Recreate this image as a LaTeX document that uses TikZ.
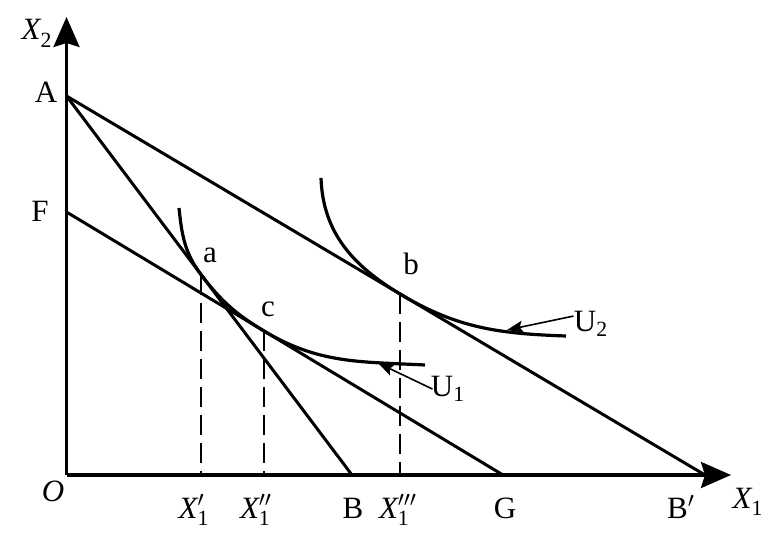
\documentclass[tikz,border=0pt]{standalone}
\usepackage{amsmath}
\usepackage{fontspec}
\setmainfont{Liberation Serif}
\usetikzlibrary{arrows.meta,positioning,calc}
\newcommand{\xsym}[2]{$\textit{X}^{#1}_{\textup{#2}}$}

\begin{document}
\begin{tikzpicture}[
    x=0.5pt, y=0.5pt,
    axis/.style={-{Stealth[length=15pt,width=13pt,inset=2pt]}, line width=1.6pt},
    budget/.style={line width=1.5pt},
    indiff/.style={line width=1.6pt},
    guide/.style={dash pattern=on 10pt off 4pt, line width=0.9pt},
    pointer/.style={-{Stealth[length=8pt,width=6pt,inset=1.5pt]}, line width=0.8pt},
    lbl/.style={font=\fontsize{15.5}{18}\selectfont, inner sep=0pt, anchor=base},
  ]
  \useasboundingbox (0,0) rectangle (777,536);

  % =================== Axes ===================
  \coordinate (O) at (66.5,61);
  \coordinate (xend) at (731,61);
  \coordinate (yend) at (66.5,519);
  \draw[axis] (O) -- (xend);
  \draw[axis] (O) -- (yend);

  \node[lbl] (lx2) at (37,496) {\xsym{}{2}};
  \node[lbl] (lx1) at (748,28) {\xsym{}{1}};
  \node[lbl] (lO) at (53,34) {\textit{O}};

  % =================== Budget lines ===================
  \coordinate (A) at (66.5,440);
  \coordinate (F) at (66.5,324);
  \coordinate (B) at (352,61);
  \coordinate (G) at (503,61);
  \coordinate (Bp) at (705,61);
  \draw[budget] (A) -- (B);
  \draw[budget] (F) -- (G);
  \draw[budget] (A) -- (Bp);

  \node[lbl] (lA) at (46,433) {A};
  \node[lbl] (lF) at (40,314) {F};
  \node[lbl] (lB) at (353,18) {B};
  \node[lbl] (lG) at (505,18) {G};
  \node[lbl] (lBp) at (681,18) {B$'$};

  % tangency points
  \coordinate (a) at ($(A)!0.471!(B)$);
  \coordinate (c) at ($(F)!0.4525!(G)$);
  \coordinate (b) at ($(A)!0.5223!(Bp)$);

  % =================== Indifference curves ===================
  % U1: touches AB at a and FG at c
  \draw[indiff] (179,328) to[out=-84, in=127] (a)
    to[out=-53, in=149] (c) to[out=-31, in=177] (425,171);
  % U2: touches AB' at b
  \draw[indiff] (321,358) to[out=-88, in=149] (b)
    to[out=-31, in=178] (566,200);

  \node[lbl] (la) at (210,273) {a};
  \node[lbl] (lc) at (268,219) {c};
  \node[lbl] (lb) at (411,261) {b};

  % curve labels with pointers
  \coordinate (t1) at (378,173);
  \coordinate (t2) at (507,206);
  \node[lbl] (lu1) at (448,139) {U$_{\textup{1}}$};
  \node[lbl] (lu2) at (591,204) {U$_{\textup{2}}$};
  \draw[pointer] ([xshift=1pt]lu1.west) -- (t1);
  \draw[pointer] ([yshift=4pt]lu2.west) -- (t2);

  % =================== Dropped lines ===================
  \draw[guide] (a) -- (a |- O);
  \draw[guide] (c) -- (c |- O);
  \draw[guide] (b) -- (b |- O);

  \node[lbl] (lx1a) at (194,18) {\xsym{\prime}{1}};
  \node[lbl] (lx1b) at (256,18) {\xsym{\prime\prime}{1}};
  \node[lbl] (lx1c) at (398,18) {\xsym{\prime\prime\prime}{1}};

\end{tikzpicture}
\end{document}
